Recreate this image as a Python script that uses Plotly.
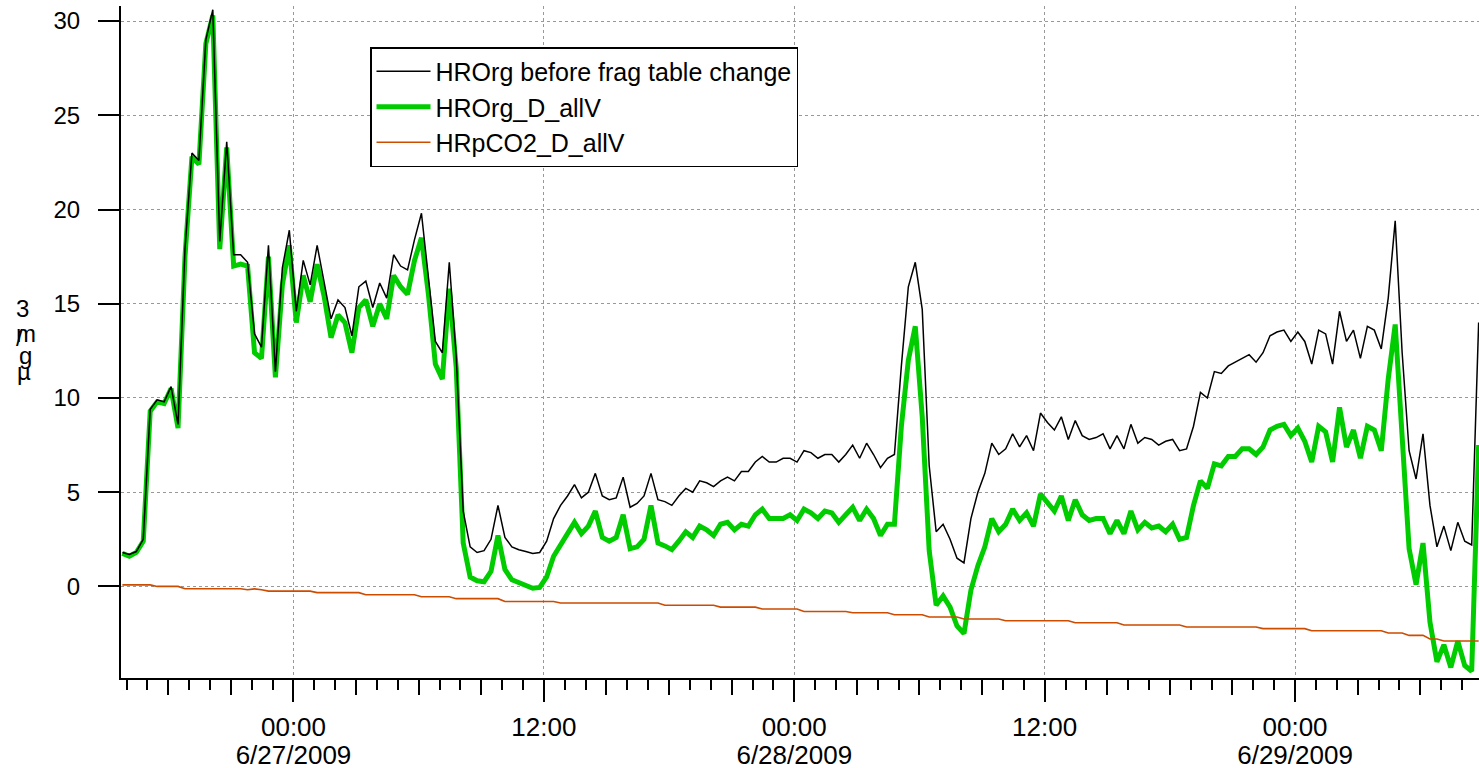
import pandas as pd
import plotly.graph_objects as go

# ---------------- data ----------------
start_time = "2009-06-26 15:48"
step = "20min"

hrorg_before = [
    1.8, 1.7, 1.85, 2.5, 9.4, 9.9, 9.8, 10.6, 8.6, 17.9,
    23.0, 22.6, 29.0, 30.6, 18.3, 23.6, 17.6, 17.6, 17.2, 13.4,
    12.7, 18.1, 11.4, 16.9, 18.9, 14.6, 17.3, 16.0, 18.1, 16.1,
    14.2, 15.2, 14.8, 13.3, 15.9, 16.2, 14.8, 16.1, 15.3, 17.6,
    17.0, 16.8, 18.4, 19.8, 16.3, 13.0, 12.4, 17.2, 12.2, 4.0,
    2.1, 1.8, 1.9, 2.5, 4.3, 2.6, 2.1, 1.95, 1.85, 1.75,
    1.8, 2.4, 3.6, 4.3, 4.8, 5.4, 4.7, 5.0, 6.0, 4.8,
    4.6, 4.7, 5.8, 4.2, 4.4, 4.8, 6.0, 4.6, 4.5, 4.3,
    4.8, 5.2, 5.0, 5.6, 5.5, 5.3, 5.6, 5.8, 5.6, 6.1,
    6.1, 6.6, 6.9, 6.6, 6.6, 6.8, 6.8, 6.6, 7.2, 7.1,
    6.8, 7.0, 7.0, 6.6, 7.0, 7.5, 6.8, 7.6, 7.0, 6.3,
    6.8, 7.0, 11.7, 15.9, 17.2, 14.7, 6.4, 2.9, 3.3, 2.5,
    1.5, 1.25, 3.6, 5.0, 6.0, 7.6, 7.0, 7.3, 8.1, 7.4,
    8.0, 7.2, 9.2, 8.7, 8.3, 9.0, 7.8, 8.8, 8.0, 7.8,
    7.9, 8.1, 7.3, 8.0, 7.3, 8.6, 7.6, 7.9, 7.8, 7.5,
    7.7, 7.8, 7.2, 7.3, 8.5, 10.3, 10.0, 11.4, 11.3, 11.7,
    11.9, 12.1, 12.3, 11.9, 12.4, 13.3, 13.5, 13.6, 13.0, 13.5,
    13.0, 11.8, 13.6, 13.4, 11.8, 14.6, 13.0, 13.6, 12.1, 13.8,
    13.6, 12.6, 15.3, 19.4, 12.4, 7.2, 5.7, 8.1, 4.3, 2.1,
    3.2, 1.9, 3.4, 2.4, 2.2, 14.0,
]

hrorg_d_allv = [
    1.75, 1.6, 1.8, 2.4, 9.3, 9.8, 9.7, 10.5, 8.4, 17.5,
    22.8, 22.4, 28.8, 30.3, 17.9, 23.3, 17.0, 17.1, 17.0, 12.4,
    12.1, 17.5, 11.1, 16.0, 18.1, 14.0, 16.5, 15.1, 17.1, 15.4,
    13.2, 14.4, 14.0, 12.4, 14.8, 15.2, 13.8, 15.0, 14.2, 16.5,
    15.9, 15.5, 17.3, 18.5, 15.5, 11.8, 11.0, 15.8, 11.6, 2.3,
    0.5, 0.3, 0.25, 0.8, 2.7, 0.9, 0.35, 0.2, 0.05, -0.1,
    -0.05, 0.5, 1.6, 2.2, 2.9, 3.4, 2.8, 3.2, 4.0, 2.6,
    2.4, 2.6, 3.8, 2.0, 2.1, 2.5, 4.3, 2.3, 2.15, 1.95,
    2.4, 2.9, 2.6, 3.2, 3.0, 2.7, 3.3, 3.4, 3.0, 3.3,
    3.2, 3.8, 4.1, 3.6, 3.6, 3.6, 3.8, 3.5, 4.1, 3.9,
    3.6, 4.0, 3.9, 3.4, 3.8, 4.2, 3.5, 4.1, 3.6, 2.7,
    3.3, 3.3, 8.5, 12.0, 13.8, 9.0, 1.9, -1.0, -0.5, -1.1,
    -2.1, -2.5, -0.2, 1.1, 2.1, 3.6, 2.9, 3.3, 4.1, 3.5,
    3.9, 3.2, 4.9, 4.4, 4.0, 4.8, 3.5, 4.6, 3.8, 3.5,
    3.6, 3.6, 2.8, 3.5, 2.8, 4.0, 3.0, 3.4, 3.1, 3.2,
    2.9, 3.3, 2.5, 2.6, 4.3, 5.6, 5.2, 6.5, 6.4, 6.9,
    6.9, 7.3, 7.3, 7.0, 7.4, 8.3, 8.5, 8.6, 8.0, 8.4,
    7.7, 6.6, 8.5, 8.2, 6.6, 9.5, 7.4, 8.3, 6.8, 8.5,
    8.3, 7.2, 11.0, 13.9, 7.9, 2.0, 0.1, 2.3, -1.9, -4.0,
    -3.1, -4.3, -2.9, -4.2, -4.5, 7.5,
]

hrpco2_d_allv = (
    [0.08] * 5 + [0.0] * 4 + [-0.12] * 9 + [-0.18, -0.13, -0.18]
    + [-0.25] * 7 + [-0.33] * 7 + [-0.44] * 8 + [-0.55] * 5
    + [-0.65] * 7 + [-0.8] * 8 + [-0.88] * 15 + [-1.0] * 8
    + [-1.1] * 6 + [-1.2] * 6 + [-1.33] * 7 + [-1.4] * 6
    + [-1.5] * 5 + [-1.62] * 5 + [-1.73] * 6 + [-1.82] * 10
    + [-1.93] * 7 + [-2.05] * 9 + [-2.15] * 11 + [-2.24] * 7
    + [-2.35] * 11 + [-2.47] * 3 + [-2.6] * 3 + [-2.79] * 2
    + [-2.9] * 6
)

series_names = ["HROrg before frag table change", "HROrg_D_allV", "HRpCO2_D_allV"]

major_tick_vals = ["2009-06-27 00:00", "2009-06-27 12:00", "2009-06-28 00:00",
                   "2009-06-28 12:00", "2009-06-29 00:00"]
major_tick_text = ["00:00", "12:00", "00:00", "12:00", "00:00"]
date_tick_vals = ["2009-06-27 00:00", "2009-06-28 00:00", "2009-06-29 00:00"]
date_tick_text = ["6/27/2009", "6/28/2009", "6/29/2009"]
y_tick_vals = [0, 5, 10, 15, 20, 25, 30]

x_range = ["2009-06-26 15:44", "2009-06-29 08:49"]
y_range = [-4.86, 30.8]

times = pd.date_range(start_time, periods=len(hrorg_before), freq=step)

# ---------------- figure ----------------
W, H = 1479, 768
ML, MR, MT, MB = 121, 0, 6, 90
FONT = "Arial, Liberation Sans, sans-serif"

fig = go.Figure()
fig.add_trace(go.Scatter(x=times, y=hrorg_d_allv, name=series_names[1], mode="lines",
                         line=dict(color="#00CC00", width=5), legendrank=2))
fig.add_trace(go.Scatter(x=times, y=hrpco2_d_allv, name=series_names[2], mode="lines",
                         line=dict(color="#CC4C00", width=1.6), legendrank=3))
fig.add_trace(go.Scatter(x=times, y=hrorg_before, name=series_names[0], mode="lines",
                         line=dict(color="#000000", width=1.5), legendrank=1))

common_x = dict(range=x_range, type="date", showline=False, showgrid=False,
                zeroline=False, ticks="outside", tickcolor="black", tickwidth=2,
                showticklabels=False, anchor="y", side="bottom", automargin=False)

fig.update_layout(
    template="none",
    width=W, height=H,
    margin=dict(l=ML, r=MR, t=MT, b=MB, pad=0, autoexpand=False),
    paper_bgcolor="white", plot_bgcolor="white",
    font=dict(family=FONT, size=24, color="black"),
    showlegend=True,
    legend=dict(
        x=(370 - ML) / (W - ML), y=(H - MB - 47) / (H - MB - MT),
        xanchor="left", yanchor="top",
        bgcolor="white", bordercolor="black", borderwidth=1.5,
        font=dict(family=FONT, size=25, color="black"),
        tracegroupgap=0, itemwidth=54,
    ),
    xaxis=dict(
        range=x_range, type="date", automargin=False,
        tickmode="array", tickvals=major_tick_vals, ticktext=major_tick_text,
        ticks="outside", ticklen=22, tickwidth=2, tickcolor="black",
        ticklabelstandoff=3,
        tickfont=dict(family=FONT, size=26, color="black"),
        showline=True, linecolor="black", linewidth=2,
        showgrid=True, gridcolor="#999999", gridwidth=1, griddash="3px,3px",
        zeroline=False,
    ),
    xaxis2=dict(common_x, overlaying="x", dtick=3 * 3600000,
                tick0="2009-06-27 00:00", ticklen=16),
    xaxis3=dict(common_x, overlaying="x", dtick=3600000,
                tick0="2009-06-27 00:00", ticklen=11),
    xaxis4=dict(range=x_range, type="date", overlaying="x", anchor="y", side="bottom",
                automargin=False, showline=False, showgrid=False, zeroline=False,
                tickmode="array", tickvals=date_tick_vals, ticktext=date_tick_text,
                ticks="", ticklabelstandoff=59,
                tickfont=dict(family=FONT, size=26, color="black")),
    yaxis=dict(
        range=y_range, tickmode="array", tickvals=y_tick_vals, automargin=False,
        ticks="outside", ticklen=21, tickwidth=2, tickcolor="black",
        ticklabelstandoff=13,
        tickfont=dict(family=FONT, size=24, color="black"),
        showline=True, linecolor="black", linewidth=2,
        showgrid=True, gridcolor="#999999", gridwidth=1, griddash="3px,3px",
        zeroline=False,
    ),
)

# overlay axes need a (invisible) trace to be drawn
for ax in ("x2", "x3", "x4"):
    fig.add_trace(go.Scatter(x=[times[0]], y=[None], xaxis=ax, yaxis="y",
                             showlegend=False, hoverinfo="skip", mode="lines"))

# y-axis unit label, glyphs stacked as in the original
def px_to_paper(px, py):
    return (px - ML) / (W - ML - MR), (H - MB - py) / (H - MB - MT)

unit_glyphs = [("3", 22.5, 309), ("m", 26, 333), ("/", 19, 337), ("g", 25, 355), ("µ", 23.5, 371)]
for ch, gx, gy in unit_glyphs:
    ax_, ay_ = px_to_paper(gx, gy)
    fig.add_annotation(text=ch, x=ax_, y=ay_, xref="paper", yref="paper",
                       showarrow=False, xanchor="center", yanchor="middle",
                       font=dict(family=FONT, size=24, color="black"))

fig.write_html(
    "out.html",
    config={"displayModeBar": False},
    post_script="document.body.style.margin='0px';document.body.style.overflow='hidden';",
)
